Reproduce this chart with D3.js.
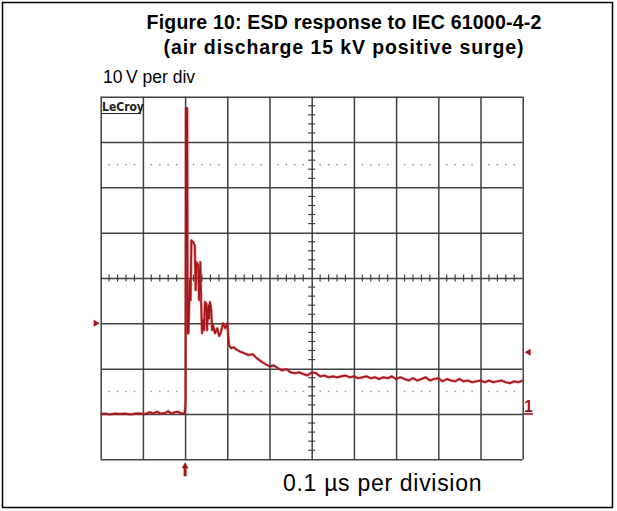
<!DOCTYPE html>
<html>
<head>
<meta charset="utf-8">
<script src="https://d3js.org/d3.v7.min.js"></script>
<style>
  body { margin: 0; background: #fff; }
  svg { display: block; font-family: "Liberation Sans", Arial, Helvetica, sans-serif; }
</style>
</head>
<body>
<svg width="617" height="511"></svg>
<script>
// ---------------- data (time in µs from trigger, voltage in V above ground) ----------------
const title1 = "Figure 10: ESD response to IEC 61000-4-2";
const title2 = "(air discharge 15 kV positive surge)";
const yLabel = "10\u2009V per div";
const xLabel = "0.1 \u00b5s per division";

const timeUs = [
  -0.199, -0.190, -0.178, -0.166, -0.154, -0.142, -0.130, -0.118, -0.107, -0.095,
  -0.083, -0.076, -0.066, -0.059, -0.047, -0.040, -0.033, -0.024, -0.017, -0.009,
  -0.002, 0.000, 0.001, 0.002, 0.005, 0.006, 0.008, 0.011, 0.013, 0.015,
  0.019, 0.023, 0.025, 0.027, 0.031, 0.033, 0.036, 0.038, 0.040, 0.043,
  0.045, 0.047, 0.050, 0.052, 0.055, 0.057, 0.059, 0.062, 0.064, 0.066,
  0.071, 0.076, 0.081, 0.085, 0.090, 0.095, 0.100, 0.102, 0.104, 0.109,
  0.116, 0.12, 0.13, 0.14, 0.15, 0.16, 0.17, 0.18, 0.19, 0.20,
  0.21, 0.22, 0.23, 0.24, 0.25, 0.26, 0.27, 0.28, 0.29, 0.30,
  0.31, 0.32, 0.33, 0.34, 0.35, 0.36, 0.37, 0.38, 0.39, 0.40,
  0.41, 0.42, 0.43, 0.44, 0.45, 0.46, 0.47, 0.48, 0.49, 0.50,
  0.51, 0.52, 0.53, 0.54, 0.55, 0.56, 0.57, 0.58, 0.59, 0.60,
  0.61, 0.62, 0.63, 0.64, 0.65, 0.66, 0.67, 0.68, 0.69, 0.70,
  0.71, 0.72, 0.73, 0.74, 0.75, 0.76, 0.77, 0.78, 0.79, 0.80
];
const volts = [
  0.0, 0.1, -0.1, 0.1, 0.0, 0.1, -0.1, 0.1, 0.1, 0.0,
  0.4, 0.1, 0.5, 0.1, 0.2, 0.6, 0.1, 0.4, 0.5, 0.1,
  0.1, 0.8, 3.0, 67.5, 67.5, 17.8, 17.8, 29.5, 25.1, 38.3,
  37.9, 37.2, 27.3, 33.5, 32.8, 25.1, 33.5, 25.1, 17.8, 20.7,
  18.5, 24.7, 24.4, 18.5, 24.0, 21.1, 24.7, 22.9, 18.5, 19.6,
  17.8, 18.9, 17.2, 18.1, 20.0, 18.9, 20.0, 17.4, 15.2, 14.5,
  14.7, 14.3, 13.8, 13.4, 13.0, 13.2, 12.3, 11.6, 11.0, 10.5,
  10.7, 10.1, 9.6, 9.9, 9.2, 9.0, 9.2, 8.8, 8.5, 9.2,
  9.0, 8.3, 8.5, 8.1, 8.3, 8.1, 8.3, 8.5, 8.1, 8.3,
  7.9, 8.1, 8.3, 7.9, 8.1, 7.7, 8.1, 7.9, 8.3, 7.7,
  8.1, 7.7, 7.4, 7.9, 7.4, 7.7, 8.1, 7.4, 7.7, 7.9,
  7.2, 7.7, 7.4, 7.2, 7.7, 7.2, 7.4, 7.0, 7.2, 7.4,
  7.0, 7.4, 7.0, 7.2, 7.4, 7.0, 6.8, 7.2, 7.0, 7.4
];

const triggerLevelV = 20;     // left marker
const offsetMarkerV = 13.6;   // right marker

// ---------------- setup ----------------
const svg = d3.select("svg");
const x = d3.scaleLinear().domain([-0.2, 0.8]).range([100.7, 522.7]);
const y = d3.scaleLinear().domain([-10, 70]).range([459.3, 96.7]);
const gridColor = "#404040";
const traceColor = "#a3161a";

// outer frame
svg.append("rect")
  .attr("x", 2.5).attr("y", 2.5).attr("width", 610).attr("height", 505)
  .attr("fill", "none").attr("stroke", "#000").attr("stroke-width", 1.5);

// titles
svg.append("text").attr("x", 344).attr("y", 29)
  .attr("text-anchor", "middle").style("font-weight", "bold").style("font-size", "19.5px")
  .style("letter-spacing", "0.2px")
  .text(title1);
svg.append("text").attr("x", 344).attr("y", 54)
  .attr("text-anchor", "middle").style("font-weight", "bold").style("font-size", "19.5px")
  .style("letter-spacing", "0.9px")
  .text(title2);
svg.append("text").attr("x", 103).attr("y", 83).style("font-size", "17.5px").text(yLabel);
svg.append("text").attr("x", 283).attr("y", 491).style("font-size", "23px")
  .style("letter-spacing", "0.7px").text(xLabel);

// ---------------- grid ----------------
const xMajor = d3.range(-0.2, 0.8001, 0.1);
const yMajor = d3.range(-10, 70.001, 10);
const g = svg.append("g");

g.append("g").attr("transform", `translate(0,${y(-10)})`)
  .call(d3.axisBottom(x).tickValues(xMajor).tickSize(-(y(-10) - y(70))).tickFormat(""))
  .call(a => a.select(".domain").remove())
  .selectAll("line").attr("stroke", gridColor).attr("stroke-width", 1.5);

g.append("g").attr("transform", `translate(${x(-0.2)},0)`)
  .call(d3.axisLeft(y).tickValues(yMajor).tickSize(-(x(0.8) - x(-0.2))).tickFormat(""))
  .call(a => a.select(".domain").remove())
  .selectAll("line").attr("stroke", gridColor).attr("stroke-width", 1.5);

// minor ticks on the centre cross
const xMinor = d3.range(-0.2, 0.8001, 0.02).filter(v => Math.abs(Math.round(v * 10) - v * 10) > 1e-6);
const yMinor = d3.range(-10, 70.001, 2).filter(v => v % 10 !== 0);
g.append("g").selectAll("line").data(xMinor).join("line")
  .attr("x1", d => x(d)).attr("x2", d => x(d))
  .attr("y1", y(30) - 3.5).attr("y2", y(30) + 3.5)
  .attr("stroke", gridColor).attr("stroke-width", 1.2);
g.append("g").selectAll("line").data(yMinor).join("line")
  .attr("x1", x(0.3) - 3.5).attr("x2", x(0.3) + 3.5)
  .attr("y1", d => y(d)).attr("y2", d => y(d))
  .attr("stroke", gridColor).attr("stroke-width", 1.2);

// dotted rows
[55, 5].forEach(v => {
  g.append("g").selectAll("circle").data(xMinor).join("circle")
    .attr("cx", d => x(d)).attr("cy", y(v)).attr("r", 0.9).attr("fill", "#a0a0a0");
});

// LeCroy logo
svg.append("text").attr("x", 102).attr("y", 111)
  .style("font-family", "DejaVu Sans Condensed, DejaVu Sans, sans-serif")
  .style("font-weight", "bold").style("font-size", "12px").attr("fill", "#222")
  .text("LeCroy");
svg.append("line").attr("x1", 102).attr("x2", 141).attr("y1", 113.5).attr("y2", 113.5)
  .attr("stroke", "#222").attr("stroke-width", 1.2);

// ---------------- trace ----------------
const pts = timeUs.map((t, i) => [t, volts[i]]);
const line = d3.line().x(d => x(d[0])).y(d => y(d[1]));
svg.append("path").datum(pts).attr("d", line)
  .attr("fill", "none").attr("stroke", "#d42020").attr("stroke-width", 2.8)
  .attr("stroke-opacity", 0.55).attr("stroke-linejoin", "round");
svg.append("path").datum(pts).attr("d", line)
  .attr("fill", "none").attr("stroke", traceColor).attr("stroke-width", 1.6)
  .attr("stroke-linejoin", "round");

// ---------------- markers ----------------
const yl = y(triggerLevelV), yr = y(offsetMarkerV);
svg.append("path")
  .attr("d", `M${x(-0.2) - 7},${yl - 3.5} L${x(-0.2) - 1},${yl} L${x(-0.2) - 7},${yl + 3.5} Z`)
  .attr("fill", traceColor);
svg.append("path")
  .attr("d", `M${x(0.8) + 8},${yr - 3.5} L${x(0.8) + 2},${yr} L${x(0.8) + 8},${yr + 3.5} Z`)
  .attr("fill", traceColor);
// ground marker "1"
svg.append("text").attr("x", 524).attr("y", y(0) - 2)
  .style("font-size", "16px").style("font-weight", "bold").attr("fill", traceColor).text("1");
svg.append("line").attr("x1", 523).attr("x2", 533).attr("y1", y(0)).attr("y2", y(0))
  .attr("stroke", traceColor).attr("stroke-width", 1.6);
// trigger arrow
const xt = x(0);
svg.append("path")
  .attr("d", `M${xt},${y(-10) + 3} L${xt + 3.5},${y(-10) + 9} L${xt + 1.5},${y(-10) + 9} L${xt + 1.5},${y(-10) + 17} L${xt - 1.5},${y(-10) + 17} L${xt - 1.5},${y(-10) + 9} L${xt - 3.5},${y(-10) + 9} Z`)
  .attr("fill", traceColor);
</script>
</body>
</html>
